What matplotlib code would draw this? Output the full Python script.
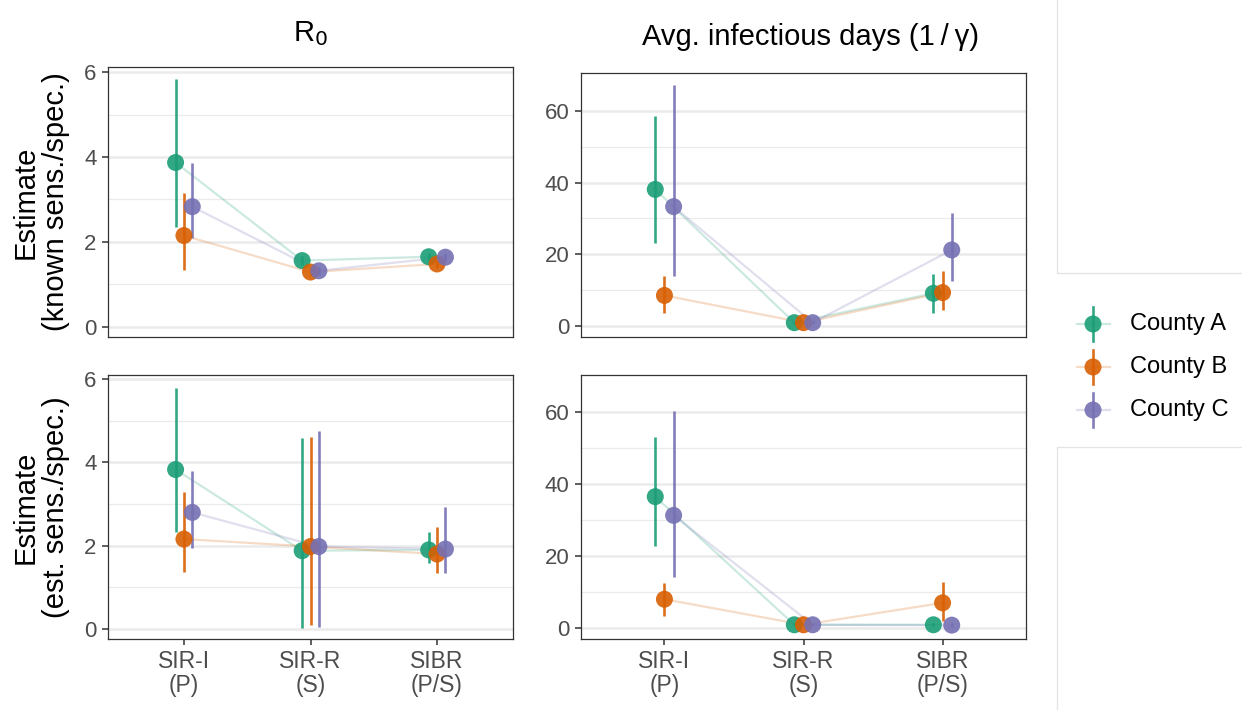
import numpy as np
import matplotlib
matplotlib.use("Agg")
import matplotlib.pyplot as plt

# ─────────────────────────────────────────────
# Data
# ─────────────────────────────────────────────

models = ["SIR-I\n(P)", "SIR-R\n(S)", "SIBR\n(P/S)"]
counties = ["County A", "County B", "County C"]
colors = ["#1B9E77", "#D95F02", "#7570B3"]

# R0, known sens./spec.  rows = county, cols = model
r0_known_est = [[3.87, 1.56, 1.65], [2.15, 1.29, 1.48], [2.83, 1.32, 1.64]]
r0_known_lo = [[2.36, 1.45, 1.55], [1.34, 1.20, 1.38], [2.09, 1.22, 1.54]]
r0_known_hi = [[5.83, 1.67, 1.75], [3.16, 1.38, 1.58], [3.87, 1.42, 1.74]]

# Avg. infectious days, known sens./spec.
days_known_est = [[38.1, 0.9, 9.1], [8.5, 0.9, 9.3], [33.3, 0.9, 21.2]]
days_known_lo = [[23.2, 0.5, 3.7], [3.5, 0.5, 4.3], [14.0, 0.5, 12.4]]
days_known_hi = [[58.7, 1.4, 14.5], [13.8, 1.4, 15.3], [67.3, 1.4, 31.6]]

# R0, est. sens./spec.
r0_est_est = [[3.83, 1.88, 1.90], [2.16, 1.98, 1.80], [2.80, 1.98, 1.92]]
r0_est_lo = [[2.32, 0.03, 1.58], [1.38, 0.10, 1.35], [1.95, 0.06, 1.34]]
r0_est_hi = [[5.79, 4.58, 2.34], [3.30, 4.60, 2.44], [3.80, 4.75, 2.94]]

# Avg. infectious days, est. sens./spec.
days_est_est = [[36.5, 0.9, 0.9], [8.0, 0.9, 7.0], [31.3, 0.9, 0.8]]
days_est_lo = [[22.9, 0.5, 0.5], [3.4, 0.5, 2.0], [14.3, 0.5, 0.4]]
days_est_hi = [[53.0, 1.4, 1.4], [12.4, 1.4, 12.9], [60.4, 1.4, 1.3]]

# ─────────────────────────────────────────────
# Style
# ─────────────────────────────────────────────

plt.rcParams["font.family"] = ["Liberation Sans", "DejaVu Sans"]

W, H = 1242, 710
DODGE = [-0.066, 0.0, 0.066]
GRID = "#EBEBEB"
BORDER = "#333333"
TICKTXT = "#4D4D4D"


def px_rect(left, top, right, bottom):
    return [left / W, 1 - bottom / H, (right - left) / W, (bottom - top) / H]


def draw_panel(ax, est, lo, hi, ylim, major, minor, show_x):
    x = np.arange(len(models)) + 1.0
    for k in range(len(counties)):
        ax.plot(x + DODGE[k], est[k], color=colors[k], alpha=0.22, lw=1.6, zorder=2)
    for k in range(len(counties)):
        xs = x + DODGE[k]
        ax.vlines(xs, lo[k], hi[k], color=colors[k], lw=1.9, alpha=0.9, zorder=3)
        ax.scatter(xs, est[k], s=150, color=colors[k], alpha=0.9,
                   edgecolors="none", zorder=4)

    ax.set_xlim(0.4, 3.6)
    ax.set_ylim(*ylim)
    for v in minor:
        ax.axhline(v, color=GRID, lw=0.9, zorder=0)
    for v in major:
        ax.axhline(v, color=GRID, lw=1.8, zorder=0)
    ax.set_yticks(major)
    ax.set_yticklabels([str(v) for v in major])
    ax.tick_params(axis="y", length=4.3, width=1.1, color=BORDER,
                   labelsize=16, labelcolor=TICKTXT, pad=4)
    if show_x:
        ax.set_xticks(x)
        ax.set_xticklabels(models, linespacing=1.05)
        ax.tick_params(axis="x", length=4.3, width=1.1, color=BORDER,
                       labelsize=16.5, labelcolor=TICKTXT, pad=3.5)
    else:
        ax.set_xticks([])
    for s in ax.spines.values():
        s.set_color(BORDER)
        s.set_linewidth(0.9)


fig = plt.figure(figsize=(W / 100, H / 100), dpi=100)

ax_tl = fig.add_axes(px_rect(108, 67, 513, 337))
ax_tr = fig.add_axes(px_rect(581, 73, 1026, 337))
ax_bl = fig.add_axes(px_rect(108, 375, 513, 639))
ax_br = fig.add_axes(px_rect(581, 375, 1026, 639))

draw_panel(ax_tl, r0_known_est, r0_known_lo, r0_known_hi,
           (-0.24, 6.12), [0, 2, 4, 6], [1, 3, 5], False)
draw_panel(ax_tr, days_known_est, days_known_lo, days_known_hi,
           (-3.1, 70.6), [0, 20, 40, 60], [10, 30, 50], False)
draw_panel(ax_bl, r0_est_est, r0_est_lo, r0_est_hi,
           (-0.24, 6.1), [0, 2, 4, 6], [1, 3, 5], True)
draw_panel(ax_br, days_est_est, days_est_lo, days_est_hi,
           (-3.05, 70.3), [0, 20, 40, 60], [10, 30, 50], True)

# column titles
fig.text(310 / W, 1 - 34 / H, r"R$_0$", fontsize=21, ha="center", va="center")
fig.text(810 / W, 1 - 37 / H, "Avg. infectious days (1\u2009/\u2009γ)", fontsize=21,
         ha="center", va="center")

# row labels
fig.text(41 / W, 1 - 202 / H, "Estimate\n(known sens./spec.)", fontsize=21,
         rotation=90, ha="center", va="center", linespacing=1.1)
fig.text(41 / W, 1 - 507 / H, "Estimate\n(est. sens./spec.)", fontsize=21,
         rotation=90, ha="center", va="center", linespacing=1.1)

# overlay for the grey frames at the right edge
ov = fig.add_axes([0, 0, 1, 1], zorder=-1)
ov.set_xlim(0, W)
ov.set_ylim(H, 0)
ov.axis("off")
ov.plot([1057, 1057, W], [0, 273, 273], color="#E3E3E3", lw=0.9)
ov.plot([1057, 1057, W], [H, 447, 447], color="#E3E3E3", lw=0.9)

# legend
leg = fig.add_axes([0, 0, 1, 1], zorder=5)
leg.set_xlim(0, W)
leg.set_ylim(H, 0)
leg.axis("off")
for k, county in enumerate(counties):
    ly = 324 + 43 * k
    leg.plot([1077, 1110], [ly, ly], color=colors[k], alpha=0.22, lw=1.6)
    leg.plot([1093, 1093], [ly - 17, ly + 17], color=colors[k], alpha=0.9, lw=1.9)
    leg.scatter([1093], [ly], s=150, color=colors[k], alpha=0.9, edgecolors="none")
    leg.text(1130, ly, county, fontsize=17, va="center", ha="left")

fig.savefig("out.png", dpi=100)
